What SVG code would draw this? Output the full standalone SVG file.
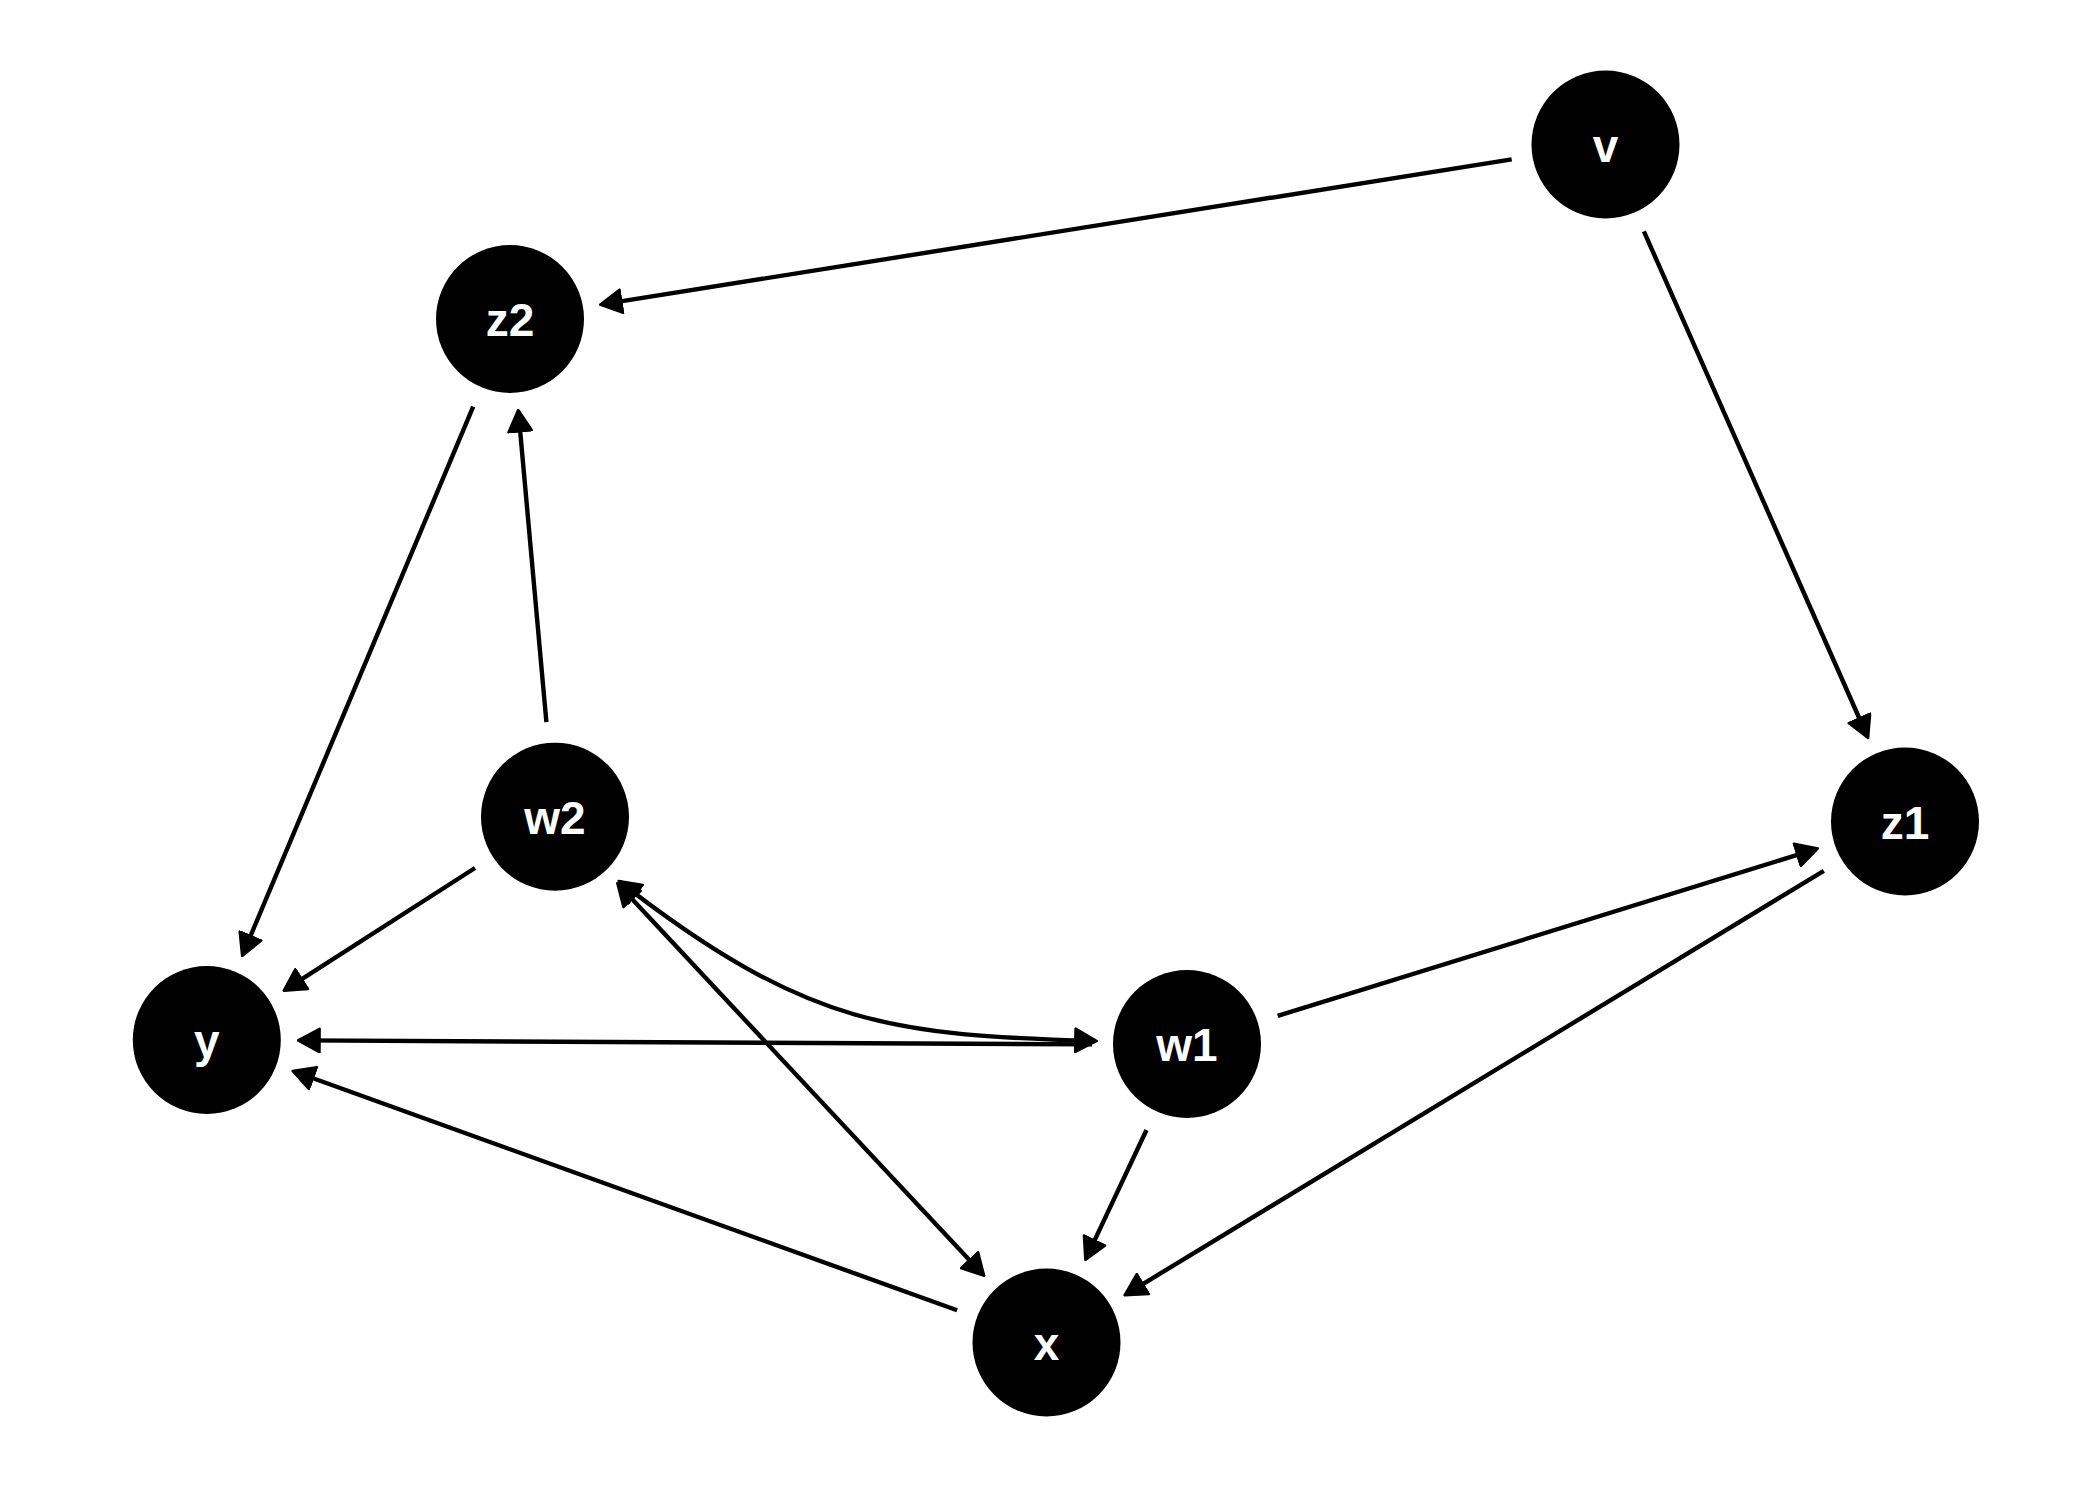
<svg xmlns="http://www.w3.org/2000/svg" width="2100" height="1500" viewBox="0 0 2100 1500">
<style>
.node circle{fill:#000;}
.node text{fill:#fff;font-family:"Liberation Sans",Arial,sans-serif;font-weight:bold;font-size:46px;text-anchor:middle;}
.edges line,.edges path{stroke:#000;stroke-width:4.4;fill:none;}
</style>
<defs>
<marker id="arr" viewBox="0 0 24 26" refX="21" refY="13" markerWidth="24" markerHeight="26" markerUnits="userSpaceOnUse" orient="auto-start-reverse">
<path d="M1.2,1.2 L22.8,13 L1.2,24.8 Z" fill="#000" stroke="#000" stroke-width="2.4" stroke-linejoin="round"/>
</marker>
</defs>
<rect width="2100" height="1500" fill="#fff"/>
<g id="edges" class="edges">
<line x1="1511.7" y1="159.4" x2="601.8" y2="304.4" marker-end="url(#arr)"/>
<line x1="1643.9" y1="231.4" x2="1867.4" y2="736.5" marker-end="url(#arr)"/>
<line x1="473.2" y1="406.6" x2="242.8" y2="954.3" marker-end="url(#arr)"/>
<line x1="546.4" y1="722.1" x2="518.4" y2="411.6" marker-end="url(#arr)"/>
<line x1="475" y1="868" x2="285.1" y2="989.8" marker-end="url(#arr)"/>
<line x1="1092" y1="1044.4" x2="299.8" y2="1040.4" marker-end="url(#arr)"/>
<line x1="957.1" y1="1310.3" x2="294.3" y2="1071.5" marker-end="url(#arr)"/>
<line x1="1146.5" y1="1130" x2="1086.1" y2="1258.4" marker-end="url(#arr)"/>
<line x1="1823.8" y1="870.8" x2="1126" y2="1294.3" marker-end="url(#arr)"/>
<line x1="1277.7" y1="1015.9" x2="1816.2" y2="849" marker-end="url(#arr)"/>
<line x1="618.5" y1="884.6" x2="983" y2="1274.6" marker-start="url(#arr)" marker-end="url(#arr)"/>
<path d="M620,882 C808,1028 895,1035 1095,1041" marker-start="url(#arr)" marker-end="url(#arr)"/>
</g>
<g id="node-v" class="node"><circle cx="1605.5" cy="144.5" r="74"/><text x="1605.5" y="161.5">v</text></g>
<g id="node-z2" class="node"><circle cx="510" cy="319" r="74"/><text x="510" y="336">z2</text></g>
<g id="node-w2" class="node"><circle cx="555" cy="816.7" r="74"/><text x="555" y="833.7">w2</text></g>
<g id="node-y" class="node"><circle cx="206.8" cy="1040" r="74"/><text x="206.8" y="1057">y</text></g>
<g id="node-w1" class="node"><circle cx="1187" cy="1044" r="74"/><text x="1187" y="1061">w1</text></g>
<g id="node-x" class="node"><circle cx="1046.5" cy="1342.5" r="74"/><text x="1046.5" y="1359.5">x</text></g>
<g id="node-z1" class="node"><circle cx="1905" cy="821.5" r="74"/><text x="1905" y="838.5">z1</text></g>
</svg>
